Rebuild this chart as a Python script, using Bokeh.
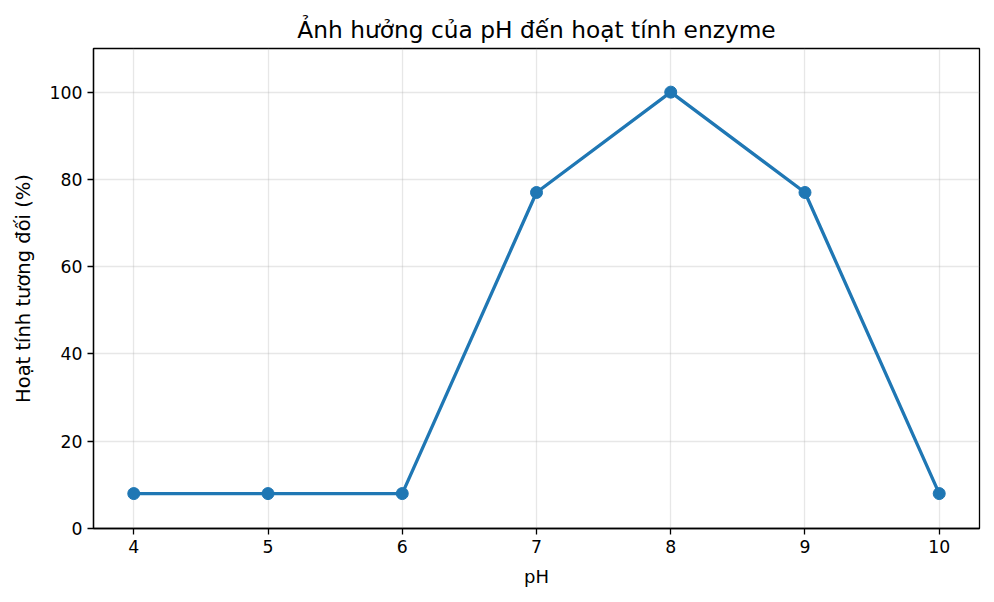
from bokeh.plotting import figure
from bokeh.models import Range1d, FixedTicker
from bokeh.embed import file_html
from bokeh.resources import INLINE

ph = [4, 5, 6, 7, 8, 9, 10]
activity = [8, 8, 8, 77, 100, 77, 8]
x_ticks = [4, 5, 6, 7, 8, 9, 10]
y_ticks = [0, 20, 40, 60, 80, 100]

title = "Ảnh hưởng của pH đến hoạt tính enzyme"
x_label = "pH"
y_label = "Hoạt tính tương đối (%)"

FONT = "DejaVu Sans"
BLUE = "#1f77b4"

p = figure(width=986, height=594, output_backend="svg", toolbar_location=None,
           x_range=Range1d(3.7, 10.3), y_range=Range1d(0, 110),
           min_border_left=93, min_border_right=7, min_border_top=48, min_border_bottom=66,
           title=title)
p.title.align = "center"
p.title.text_font = FONT
p.title.text_font_size = "23.3px"
p.title.text_font_style = "normal"
p.title.text_color = "#000000"
p.title.offset = 0
p.title.standoff = 12

p.outline_line_color = "#000000"
p.outline_line_width = 1.3
p.background_fill_color = "white"
p.border_fill_color = "white"

for ax, ticks, lab in ((p.xaxis[0], x_ticks, x_label), (p.yaxis[0], y_ticks, y_label)):
    ax.ticker = FixedTicker(ticks=ticks)
    ax.axis_label = lab
    ax.axis_label_text_font = FONT
    ax.axis_label_text_font_style = "normal"
    ax.axis_label_text_color = "#000000"
    ax.major_label_text_font = FONT
    ax.major_label_text_font_size = "17.3px"
    ax.major_label_text_color = "#000000"
    ax.axis_line_color = "#000000"
    ax.axis_line_width = 1.3
    ax.major_tick_line_color = "#000000"
    ax.major_tick_line_width = 1.3
    ax.major_tick_out = 6
    ax.major_tick_in = 0
    ax.minor_tick_line_color = None
    ax.major_label_standoff = 5

p.xaxis[0].axis_label_text_font_size = "18px"
p.xaxis[0].axis_label_standoff = 10
p.yaxis[0].axis_label_text_font_size = "19.5px"
p.yaxis[0].axis_label_standoff = 12

for g in (p.xgrid[0], p.ygrid[0]):
    g.grid_line_color = "#b0b0b0"
    g.grid_line_alpha = 0.3
    g.grid_line_width = 1.3

p.line(ph, activity, line_color=BLUE, line_width=3.3)
p.scatter(ph, activity, size=12, fill_color=BLUE, line_color=BLUE)

open("out.html", "w").write(file_html(p, INLINE))
